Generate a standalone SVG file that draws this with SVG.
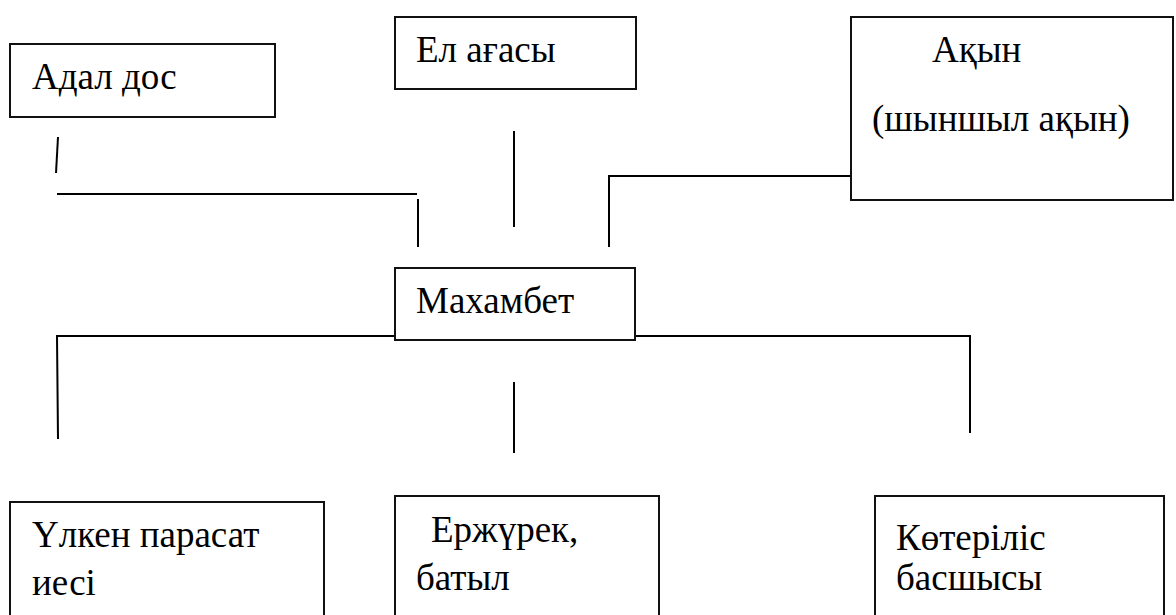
<svg xmlns="http://www.w3.org/2000/svg" width="1176" height="615" viewBox="0 0 1176 615">
<style>
.box{fill:#fff;stroke:#111;stroke-width:2}
.c{stroke:#000;stroke-width:2;fill:none}
.t{font-family:"Liberation Serif","Times New Roman",serif;font-size:37px;fill:#000}
</style>
<rect width="1176" height="615" fill="#fff"/>
<g id="connectors">
<line class="c" x1="58" y1="137" x2="56" y2="173"/>
<line class="c" x1="57" y1="194" x2="417" y2="194"/>
<line class="c" x1="418" y1="199" x2="418" y2="247"/>
<line class="c" x1="514" y1="131" x2="514" y2="227"/>
<polyline class="c" points="609,247 609,176 851,176"/>
<polyline class="c" points="58,439 57,336 395,336"/>
<polyline class="c" points="635,336 970,336 970,433"/>
<line class="c" x1="514" y1="382" x2="514" y2="453"/>
</g>
<g id="adal-dos">
<rect class="box" x="10" y="44" width="265" height="73"/>
<text class="t" x="32" y="89">Адал дос</text>
</g>
<g id="el-agasy">
<rect class="box" x="395" y="17" width="241" height="72"/>
<text class="t" x="416" y="62">Ел ағасы</text>
</g>
<g id="akyn">
<rect class="box" x="851" y="17" width="322" height="183"/>
<text class="t" x="932" y="62">Ақын</text>
<text class="t" x="872" y="131">(шыншыл ақын)</text>
</g>
<g id="makhambet">
<rect class="box" x="395" y="268" width="240" height="72"/>
<text class="t" x="416" y="313">Махамбет</text>
</g>
<g id="ulken">
<rect class="box" x="10" y="502" width="314" height="120"/>
<text class="t" x="32" y="547">Үлкен парасат</text>
<text class="t" x="32" y="595">иесі</text>
</g>
<g id="erzhurek">
<rect class="box" x="395" y="496" width="264" height="126"/>
<text class="t" x="431" y="542">Ержүрек,</text>
<text class="t" x="416" y="590">батыл</text>
</g>
<g id="koterilis">
<rect class="box" x="875" y="496" width="289" height="126"/>
<text class="t" x="896" y="550">Көтеріліс</text>
<text class="t" x="896" y="590">басшысы</text>
</g>
</svg>
